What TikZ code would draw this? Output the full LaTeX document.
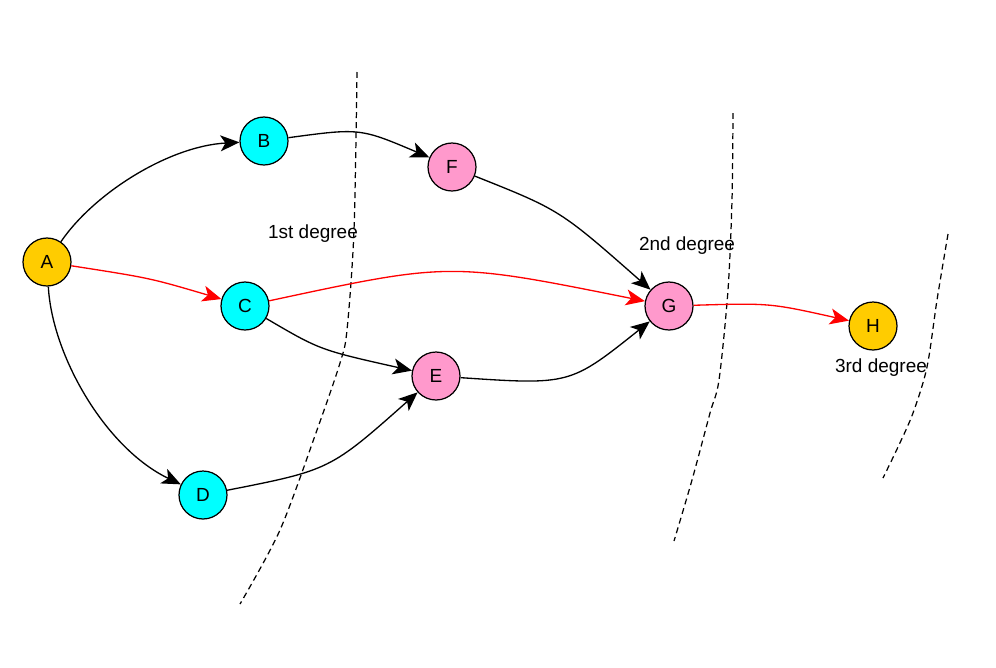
\documentclass[tikz,border=0pt]{standalone}
\usepackage{fontspec}
\setmainfont{Liberation Sans}
\usetikzlibrary{arrows.meta}

\definecolor{seedgold}{HTML}{FFCC00}
\definecolor{firstcyan}{HTML}{00FFFF}
\definecolor{secondpink}{HTML}{FF99CC}

\begin{document}
\begin{tikzpicture}[
    x=0.02cm, y=-0.02cm,
    >={Stealth[length=0.38cm,width=0.32cm,inset=0.1cm]},
    every node/.style={font=\fontsize{10.8}{13}\selectfont},
    vertex/.style={
        circle,
        draw=black,
        line width=0.7pt,
        minimum size=0.96cm,
        inner sep=0pt
    },
    seed/.style={vertex, fill=seedgold},
    first/.style={vertex, fill=firstcyan},
    second/.style={vertex, fill=secondpink},
    flow/.style={
        ->,
        line width=0.75pt,
        draw=black
    },
    path/.style={flow, draw=red},
    border/.style={
        line width=0.7pt,
        dash pattern=on 3.4pt off 2.3pt
    }
]
\useasboundingbox (0,0) rectangle (996,667);

% degree borders
\draw[border] plot[smooth] coordinates {(357,72) (354,230) (347,330) (340,363) (317,430) (280,530) (240,604)};
\draw[border] plot[smooth] coordinates {(733,113) (732,200) (728,290) (719,380) (710,413) (692,480) (674,541)};
\draw[border] plot[smooth] coordinates {(948,234) (937,300) (927,367) (913,413) (898,447) (883,478)};

% people
\node[seed] (A) at (47,262) {A};
\node[first] (B) at (264,141) {B};
\node[first] (C) at (245,306) {C};
\node[first] (D) at (203,495) {D};
\node[second] (E) at (436,376) {E};
\node[second] (F) at (452,167) {F};
\node[second] (G) at (669,306) {G};
\node[seed] (H) at (873,326) {H};

\node (deg1) at (313,234) {1st degree};
\node (deg2) at (687,246) {2nd degree};
\node (deg3) at (881,368) {3rd degree};

% links
\draw[flow] (A) .. controls (95,192) and (170,146) .. (B);
\draw[path] (A) .. controls (150,278) .. (C);
\draw[flow] (A) .. controls (52,355) and (105,448) .. (D);
\draw[flow] (B) .. controls (360,128) .. (F);
\draw[path] (C) .. controls (450,262) .. (G);
\draw[flow] (C) .. controls (320,350) .. (E);
\draw[flow] (D) .. controls (330,470) .. (E);
\draw[flow] (F) .. controls (560,210) .. (G);
\draw[flow] (E) .. controls (570,385) .. (G);
\draw[path] (G) .. controls (770,303) .. (H);
\end{tikzpicture}
\end{document}
